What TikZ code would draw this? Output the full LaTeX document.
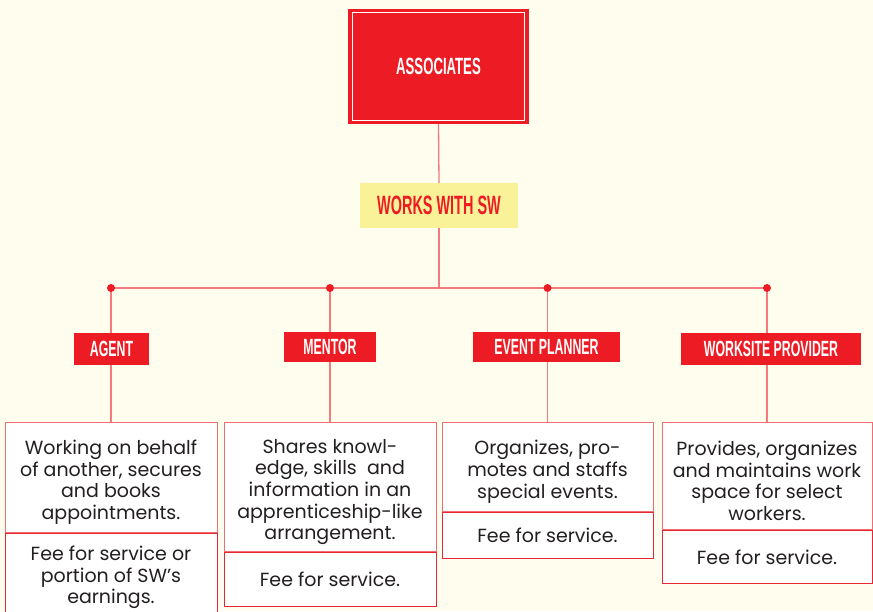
\documentclass[tikz,border=0pt]{standalone}
\usepackage{fontspec}
\setmainfont{Poppins}
\newfontfamily\labfont[FakeStretch=0.56]{Liberation Sans}
\newfontfamily\worksfont[FakeStretch=0.545]{Liberation Sans}
\newfontfamily\bodyfont{Poppins}
\definecolor{bg}{RGB}{255,253,238}
\definecolor{redA}{RGB}{237,28,36}
\definecolor{lineC}{RGB}{243,122,127}
\definecolor{yel}{RGB}{250,242,152}
\definecolor{txt}{RGB}{35,31,32}
\definecolor{boxtop}{RGB}{240,110,115}
\definecolor{boxbot}{RGB}{230,40,50}
\newcommand{\topstrut}{\rule{0pt}{24pt}}
\tikzset{
  conn/.style={draw=lineC, line width=1.3pt},
  dotc/.style={fill=redA},
  assocbox/.style={fill=redA, inner sep=0pt, text=white,
    font={\labfont\bfseries\fontsize{23.5}{26}\selectfont}},
  worksbox/.style={fill=yel, inner sep=0pt, text=redA,
    font={\worksfont\bfseries\fontsize{26.5}{28}\selectfont}},
  rolebox/.style={fill=redA, inner sep=0pt, text=white, minimum height=30pt,
    font={\labfont\bfseries\fontsize{22}{24}\selectfont}},
  descbox/.style={fill=white, draw=boxtop, line width=1pt, inner sep=0pt,
    anchor=north, align=center, text=txt,
    font={\bodyfont\fontsize{19}{21.6}\selectfont}},
  feebox/.style={descbox, draw=boxbot},
}
\begin{document}
\begin{tikzpicture}[x=1pt,y=-1pt]
\fill[bg] (0,0) rectangle (873,611);
\useasboundingbox (0,0) rectangle (873,611);

% top boxes
\node[assocbox, minimum width=181pt, minimum height=115pt] (assoc) at (438.5,66.5) {ASSOCIATES};
\draw[white, line width=0.9pt] ([xshift=5pt,yshift=-4pt]assoc.north west) rectangle ([xshift=-5pt,yshift=4pt]assoc.south east);

% description boxes
\node[descbox, minimum width=212pt, minimum height=110pt] (agentD) at (111,422)
  {\topstrut Working on behalf\\of another, secures\\and books\\appointments.};
\node[feebox, minimum width=212pt, minimum height=88pt] (agentF) at (agentD.south)
  {Fee for service or\\portion of SW’s\\earnings.};
\node[descbox, minimum width=212pt, minimum height=129pt] (mentorD) at (330,422)
  {\topstrut Shares knowl-\\edge, skills~ and\\information in an\\apprenticeship-like\\arrangement.};
\node[feebox, minimum width=212pt, minimum height=54pt] (mentorF) at (mentorD.south)
  {Fee for service.};
\node[descbox, minimum width=211pt, minimum height=89pt] (eventD) at (547.5,422)
  {\topstrut Organizes, pro-\\motes and staffs\\special events.};
\node[feebox, minimum width=211pt, minimum height=46pt] (eventF) at (eventD.south)
  {Fee for service.};
\node[descbox, minimum width=210pt, minimum height=107pt] (siteD) at (767,422)
  {\topstrut Provides, organizes\\and maintains work\\space for select\\workers.};
\node[feebox, minimum width=210pt, minimum height=53pt] (siteF) at (siteD.south)
  {Fee for service.};

% connectors
\coordinate (hub) at (439,288);
\coordinate (d1) at (111,288);
\coordinate (d2) at (330,288);
\coordinate (d3) at (547.5,288);
\coordinate (d4) at (767,288);
\node[worksbox, minimum width=158pt, minimum height=45pt] (works) at (439,205.5) {WORKS WITH SW};
\draw[conn] (assoc.south) -- (works.north);
\draw[conn] (works.south) -- (hub);
\draw[conn] (d1) -- (d4);
\draw[conn] (d1) -- (agentD.north);
\draw[conn] (d2) -- (mentorD.north);
\draw[conn] (d3) -- (eventD.north);
\draw[conn] (d4) -- (siteD.north);
\foreach \d in {d1,d2,d3,d4} \fill[dotc] (\d) circle (4pt);

% role labels
\node[rolebox, minimum width=75pt, minimum height=32pt] (agent) at (111.5,348.5) {AGENT};
\node[rolebox, minimum width=92pt] (mentor) at (330,347) {MENTOR};
\node[rolebox, minimum width=147pt] (event) at (546.5,347) {EVENT PLANNER};
\node[rolebox, minimum width=180pt, minimum height=32pt] (site) at (771,348.5) {WORKSITE PROVIDER};
\end{tikzpicture}
\end{document}
